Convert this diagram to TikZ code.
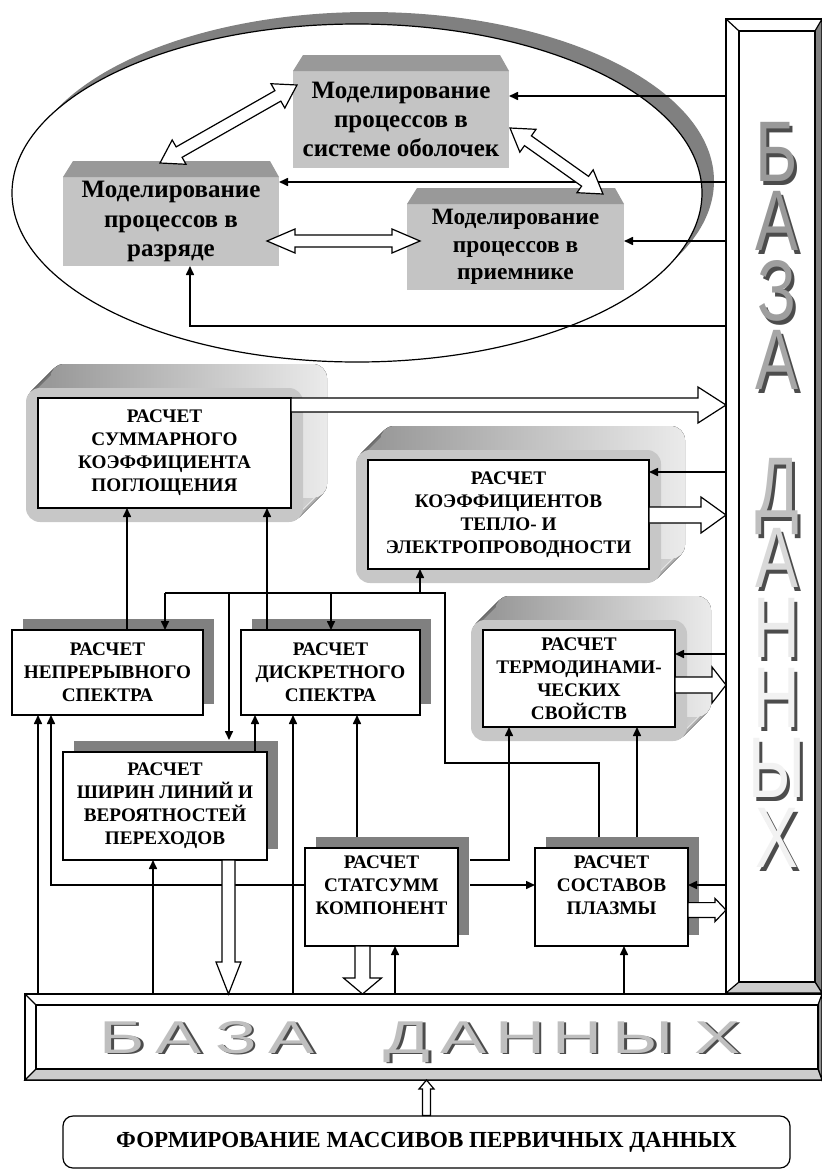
\documentclass[tikz,border=0pt]{standalone}
\usepackage{fontspec}
\setmainfont{Liberation Serif}
\newfontfamily\dbfont{Liberation Sans}
\usetikzlibrary{arrows.meta, calc, backgrounds, shadows}

\tikzstyle{calcbox}   = [rectangle, draw=black, line width=0.8pt, fill=white, align=center,
                         inner sep=0pt, outer sep=0pt, font=\fontsize{9.6}{11.5}\selectfont\bfseries]
\tikzstyle{shadowbox} = [calcbox, drop shadow={shadow xshift=5.5pt, shadow yshift=5.5pt, fill=black!50, opacity=1}]
\tikzstyle{modelbox}  = [rectangle, fill=black!23, align=center, inner sep=0pt, outer sep=0pt,
                         font=\fontsize{12.5}{14.7}\selectfont\bfseries]
\tikzstyle{formbox}   = [rectangle, rounded corners=5pt, draw=black, line width=0.6pt, inner sep=0pt,
                         font=\fontsize{11.5}{13}\selectfont\bfseries]
\tikzstyle{dbbar}     = [rectangle, draw=black, fill=white, line width=0.6pt, inner sep=0pt, outer sep=0pt]
\tikzstyle{vletter}   = [anchor=base, inner sep=0pt, font=\dbfont\fontsize{43}{43}\selectfont]
\tikzstyle{hletter}   = [anchor=base, inner sep=0pt, font=\dbfont\fontsize{23}{23}\selectfont]
\tikzstyle{arrow}     = [-{Triangle[length=4.5pt, width=4pt]}, line width=0.8pt]
\tikzstyle{wire}      = [line width=0.8pt]
\tikzstyle{hollow}    = [draw=black, fill=white, line width=0.6pt]

% hollow arrow: start, tip, shaft half width, head half width, head length
\newcommand{\hollowone}[5]{%
  \coordinate (hb) at ($(#2)!#5!(#1)$);
  \draw[hollow] ($(#1)!#3!90:(#2)$) -- ($(hb)!#3!90:(#2)$) -- ($(hb)!#4!90:(#2)$) -- (#2)
    -- ($(hb)!#4!-90:(#2)$) -- ($(hb)!#3!-90:(#2)$) -- ($(#1)!#3!-90:(#2)$) -- cycle;}
% hollow arrow with two heads
\newcommand{\hollowtwo}[5]{%
  \coordinate (ha) at ($(#1)!#5!(#2)$);
  \coordinate (hb) at ($(#2)!#5!(#1)$);
  \draw[hollow] (#1) -- ($(ha)!#4!90:(#2)$) -- ($(ha)!#3!90:(#2)$) -- ($(hb)!#3!-90:(#1)$)
    -- ($(hb)!#4!-90:(#1)$) -- (#2) -- ($(hb)!#4!90:(#1)$) -- ($(hb)!#3!90:(#1)$)
    -- ($(ha)!#3!-90:(#2)$) -- ($(ha)!#4!-90:(#2)$) -- cycle;}
% letter with a drop shadow
\newcommand{\shadowed}[4]{\makebox[0pt][l]{\kern#3\raisebox{-#3}{\textcolor{black!70}{#1}}}\textcolor{#4}{#1}}

\begin{document}
\begin{tikzpicture}[x=0.5pt, y=-0.5pt]
    \useasboundingbox (0,0) rectangle (822,1173);

    % modelling block
    \fill[black!50] (369,181) ellipse [x radius=172.5pt, y radius=84.5pt];
    \filldraw[fill=white, draw=black, line width=0.6pt] (357,193) ellipse [x radius=172.5pt, y radius=84.5pt];

    \node (U1) [modelbox, minimum width=108pt, minimum height=48.5pt] at (401,119.5) {Моделирование\\процессов в\\системе оболочек};
    \node (U2) [modelbox, minimum width=108pt, minimum height=44.5pt] at (171,221.5) {Моделирование\\процессов в\\разряде};
    \node (U3) [modelbox, minimum width=108.5pt, minimum height=43pt, font=\fontsize{11.7}{13.7}\selectfont\bfseries]
          at (515.5,247) {Моделирование\\процессов в\\приемнике};
    \foreach \u in {U1,U2,U3}
        \fill[black!40] (\u.north west) -- ++(10,-16) -- ($(\u.north east)+(-9,-16)$) -- (\u.north east) -- cycle;

    % calculation blocks
    \node (A) [calcbox, minimum width=126.5pt, minimum height=55pt] at (164.5,453) {РАСЧЕТ\\СУММАРНОГО\\КОЭФФИЦИЕНТА\\ПОГЛОЩЕНИЯ};
    \node (B) [calcbox, minimum width=140.5pt, minimum height=54.5pt] at (508.5,514.5) {РАСЧЕТ\\КОЭФФИЦИЕНТОВ\\ТЕПЛО- И\\ЭЛЕКТРОПРОВОДНОСТИ};
    \node (C) [calcbox, minimum width=96pt, minimum height=48.5pt] at (579,678.5) {РАСЧЕТ\\ТЕРМОДИНАМИ-\\ЧЕСКИХ\\СВОЙСТВ};
    \node (D) [shadowbox, minimum width=95.5pt, minimum height=42.5pt] at (107.5,672.5) {РАСЧЕТ\\НЕПРЕРЫВНОГО\\СПЕКТРА};
    \node (E) [shadowbox, minimum width=89.5pt, minimum height=42.5pt] at (330.5,672.5) {РАСЧЕТ\\ДИСКРЕТНОГО\\СПЕКТРА};
    \node (F) [shadowbox, minimum width=102pt, minimum height=54pt] at (165,806) {РАСЧЕТ\\ШИРИН ЛИНИЙ И\\ВЕРОЯТНОСТЕЙ\\ПЕРЕХОДОВ};
    \node (G) [shadowbox, minimum width=76.5pt, minimum height=49pt] at (381.5,897) {РАСЧЕТ\\СТАТСУММ\\КОМПОНЕНТ\\\mbox{}};
    \node (H) [shadowbox, minimum width=76.5pt, minimum height=49pt] at (611.5,897) {РАСЧЕТ\\СОСТАВОВ\\ПЛАЗМЫ\\\mbox{}};

    \begin{scope}[on background layer]
        \foreach \n in {A,B,C} {
            \foreach \s in {1,...,24}
                \fill[rounded corners=7pt, left color=black!40, right color=black!8]
                    ($(\n.north west)+(-12+\s,-10-\s)$) rectangle ($(\n.south east)+(12+\s,14-\s)$);
            \fill[rounded corners=7pt, black!22] ($(\n.north west)+(-12,-10)$) rectangle ($(\n.south east)+(12,14)$);
        }
    \end{scope}

    \node (form) [formbox, minimum width=363.5pt, minimum height=26pt] at (426.5,1142) {ФОРМИРОВАНИЕ МАССИВОВ ПЕРВИЧНЫХ ДАННЫХ};

    % data base, vertical
    \node (dbv) [dbbar, minimum width=48pt, minimum height=487pt] at (774,506) {};
    \filldraw[fill=black!50, draw=black, line width=0.6pt] (dbv.north east) -- (dbv.south east) -- ++(-7,-11) -- ($(dbv.north east)+(-7,12)$) -- cycle;
    \filldraw[fill=black!20, draw=black, line width=0.6pt] (dbv.south west) -- (dbv.south east) -- ++(-7,-11) -- ($(dbv.south west)+(13,-11)$) -- cycle;
    \draw[line width=0.6pt] (dbv.north west) -- ++(13,12);
    \draw[line width=0.6pt] ($(dbv.north west)+(13,12)$) rectangle ($(dbv.south east)+(-7,-11)$);
    \foreach \ch/\yy/\fc [count=\i] in {Б/181/40, А/250/40, З/320/38, А/389/35, Д/517/25, А/587/15, Н/657/8, Н/727/5, Ы/797/5, Х/867/5}
        \node (vl\i) [vletter] at (777,\yy) {\scalebox{0.75}[1]{\shadowed{\ch}{}{2pt}{black!\fc}}};

    % data base, horizontal
    \node (dbh) [dbbar, minimum width=398.5pt, minimum height=43pt] at (423.5,1037) {};
    \filldraw[fill=black!45, draw=black, line width=0.6pt] (dbh.north east) -- (dbh.south east) -- ++(-4,-11) -- ($(dbh.north east)+(-4,11)$) -- cycle;
    \filldraw[fill=black!20, draw=black, line width=0.6pt] (dbh.south west) -- (dbh.south east) -- ++(-4,-11) -- ($(dbh.south west)+(11,-11)$) -- cycle;
    \draw[line width=0.6pt] (dbh.north west) -- ++(11,11);
    \draw[line width=0.6pt] ($(dbh.north west)+(11,11)$) rectangle ($(dbh.south east)+(-4,-11)$);
    \foreach \ch/\xx [count=\i] in {Б/122, А/179, З/236, А/292, Д/407, А/464, Н/520, Н/577, Ы/643, Х/718}
        \node (hl\i) [hletter] at (\xx,1053) {\scalebox{1.5}[1]{\shadowed{\ch}{}{0.9pt}{black!25}}};

    % links of the modelling block
    \draw[arrow] (dbv.west |- 0,96) -- (U1.east |- 0,96);
    \draw[arrow] (dbv.west |- 0,182) -- (U2.east |- 0,182);
    \draw[arrow] (dbv.west |- 0,241) -- (U3.east |- 0,241);
    \draw[arrow] (dbv.west |- 0,326) -| (U2.south -| 190,0);

    % links of the calculation blocks
    \draw[arrow] (D.north -| 127,0) -- (A.south -| 127,0);
    \draw[arrow] (E.north -| 267,0) -- (A.south -| 267,0);
    \draw[wire] ($(H.north -| 599,0)+(0,-11)$) |- (445,763) -- (445,593) -- (165,593);
    \draw[arrow] (165,593) -- (D.north -| 165,0);
    \draw[arrow] (229,593) -- ($(F.north -| 229,0)+(0,-12)$);
    \draw[arrow] (331,593) -- (E.north -| 331,0);
    \draw[arrow] (420,593) -- (B.south -| 420,0);
    \draw[arrow] (dbh.north -| 38,0) -- (D.south -| 38,0);
    \draw[arrow] (G.west |- 0,885) -| (D.south -| 51,0);
    \draw[arrow] (F.north -| 255,0) -- (E.south -| 255,0);
    \draw[arrow] (dbh.north -| 293,0) -- (E.south -| 293,0);
    \draw[arrow] ($(G.north -| 357,0)+(0,-11)$) -- (E.south -| 357,0);
    \draw[arrow] (dbh.north -| 153,0) -- (F.south -| 153,0);
    \draw[arrow] (dbh.north -| 395,0) -- (G.south -| 395,0);
    \draw[arrow] (dbh.north -| 624,0) -- (H.south -| 624,0);
    \draw[arrow] ($(G.east |- 0,860)+(12,0)$) -| (C.south -| 509,0);
    \draw[arrow] ($(G.east |- 0,885)+(12,0)$) -- (H.west |- 0,885);
    \draw[arrow] ($(H.north -| 637,0)+(0,-11)$) -- (C.south -| 637,0);
    \draw[arrow] (dbv.west |- 0,885) -- (H.east |- 0,885);
    \draw[arrow] (dbv.west |- 0,654) -- (C.east |- 0,654);
    \draw[arrow] (dbv.west |- 0,472) -- (B.east |- 0,472);

    % hollow arrows
    \coordinate (u1a) at ($(U1.north west)+(4,14)$);
    \coordinate (u2a) at ($(U2.north)+(-11,-14)$);
    \coordinate (u1b) at ($(U1.east)+(1,8.5)$);
    \coordinate (u3b) at ($(U3.north east)+(-21,-10)$);
    \coordinate (u2c) at ($(U2.east)+(-12,19.5)$);
    \coordinate (u3c) at ($(U3.west)+(13,-6)$);
    \hollowtwo{u2a}{u1a}{3pt}{7pt}{11pt}
    \hollowtwo{u1b}{u3b}{3pt}{7pt}{11pt}
    \hollowtwo{u2c}{u3c}{3pt}{6pt}{14pt}
    \hollowone{A.east |- 0,405}{dbv.west |- 0,405}{3.5pt}{9pt}{14pt}
    \hollowone{B.east |- 0,515}{dbv.west |- 0,515}{4pt}{9pt}{12.5pt}
    \hollowone{C.east |- 0,685}{dbv.west |- 0,685}{4pt}{9pt}{7pt}
    \hollowone{H.east |- 0,910}{dbv.west |- 0,910}{3.7pt}{5.8pt}{5.5pt}
    \hollowone{F.south -| 228.5,0}{dbh.north -| 228.5,0}{3.25pt}{6.25pt}{16pt}
    \hollowone{G.south -| 362.5,0}{dbh.north -| 362.5,0}{3.75pt}{9.5pt}{8pt}
    \hollowone{form.north}{dbh.south -| form.north}{2pt}{3.75pt}{4.5pt}
\end{tikzpicture}
\end{document}
